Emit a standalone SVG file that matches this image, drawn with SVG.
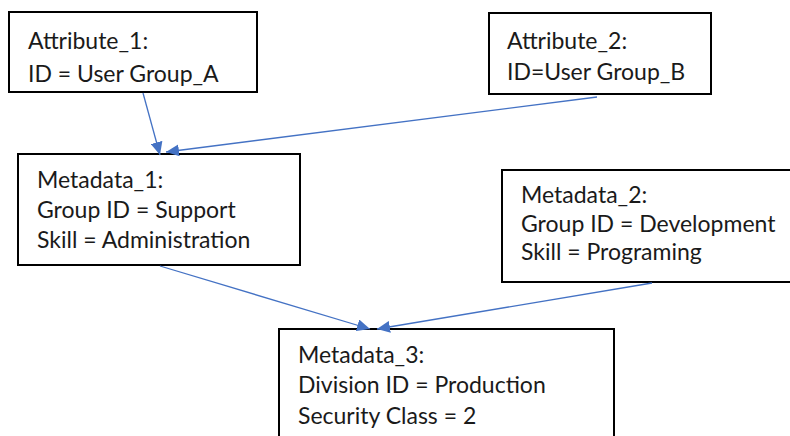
<svg xmlns="http://www.w3.org/2000/svg" width="790" height="436" viewBox="0 0 790 436">
  <style>
    .box { fill: #ffffff; stroke: #000000; stroke-width: 2; }
    .lbl { font-family: Lato, "Open Sans", "Liberation Sans", sans-serif; font-size: 23px; fill: #1a1a1a; }
    .conn { stroke: #4472C4; stroke-width: 1.3; fill: none; marker-end: url(#arrow); }
  </style>
  <defs>
    <marker id="arrow" markerUnits="userSpaceOnUse" markerWidth="14" markerHeight="12" refX="13" refY="6" orient="auto">
      <path d="M0,0 L13,6 L0,12 Z" fill="#4472C4"/>
    </marker>
  </defs>
  <rect width="790" height="436" fill="#ffffff"/>

  <g id="attribute_1">
    <rect class="box" x="9" y="12" width="248" height="80"/>
    <text class="lbl" x="28" y="49">Attribute_1:</text>
    <text class="lbl" x="28" y="82">ID = User Group_A</text>
  </g>

  <g id="attribute_2">
    <rect class="box" x="489" y="13" width="222" height="81"/>
    <text class="lbl" x="507" y="49">Attribute_2:</text>
    <text class="lbl" x="507" y="80">ID=User Group_B</text>
  </g>

  <g id="metadata_1">
    <rect class="box" x="18" y="154" width="282" height="111"/>
    <text class="lbl" x="37" y="188">Metadata_1:</text>
    <text class="lbl" x="37" y="218">Group ID = Support</text>
    <text class="lbl" x="37" y="248">Skill = Administration</text>
  </g>

  <g id="metadata_2">
    <rect class="box" x="502" y="170" width="300" height="112"/>
    <text class="lbl" x="521" y="203">Metadata_2:</text>
    <text class="lbl" x="521" y="232">Group ID = Development</text>
    <text class="lbl" x="521" y="260">Skill = Programing</text>
  </g>

  <g id="metadata_3">
    <rect class="box" x="279" y="329" width="335" height="120"/>
    <text class="lbl" x="298" y="363">Metadata_3:</text>
    <text class="lbl" x="298" y="393">Division ID = Production</text>
    <text class="lbl" x="298" y="424">Security Class = 2</text>
  </g>

  <g id="connectors">
    <line class="conn" x1="143" y1="93" x2="160" y2="155"/>
    <line class="conn" x1="597" y1="97" x2="166" y2="152"/>
    <line class="conn" x1="160" y1="266" x2="370" y2="329"/>
    <line class="conn" x1="652" y1="283" x2="377" y2="329"/>
  </g>
</svg>
